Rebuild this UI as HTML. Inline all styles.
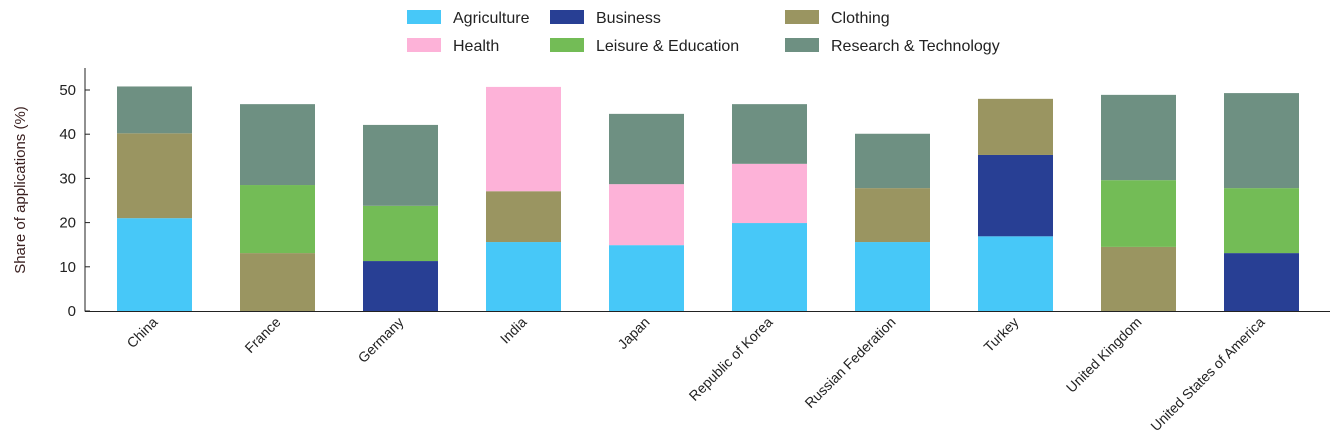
<!DOCTYPE html>
<html><head><meta charset="utf-8"><style>
body{margin:0;background:#fff;}
svg{display:block;font-family:"Liberation Sans",sans-serif;}
</style></head><body>
<svg id="chart" width="1344" height="444"></svg>
<script>
const categories=["China","France","Germany","India","Japan","Republic of Korea","Russian Federation","Turkey","United Kingdom","United States of America"];
const seriesNames=["Agriculture","Business","Clothing","Health","Leisure & Education","Research & Technology"];
const agriculture=[21.0,0,0,15.6,14.9,19.9,15.6,16.9,0,0];
const business=[0,0,11.3,0,0,0,0,18.4,0,13.1];
const clothing=[19.2,13.1,0,11.5,0,0,12.2,12.7,14.5,0];
const health=[0,0,0,23.6,13.8,13.4,0,0,0,0];
const leisure=[0,15.4,12.5,0,0,0,0,0,15.1,14.7];
const research=[10.6,18.3,18.3,0,15.9,13.5,12.3,0,19.3,21.5];
const yTicks=[0,10,20,30,40,50];
const colors=["#47c8f8","#283f94","#9a9561","#fdb2d8","#73bc56","#6e9082"];
const stackOrder=[[0,agriculture],[1,business],[2,clothing],[3,health],[4,leisure],[5,research]];
const NS="http://www.w3.org/2000/svg";
const svg=document.getElementById("chart");
const x0=93,band=123,barW=75,yBase=311,pxPerUnit=4.42;
const y=v=>yBase-v*pxPerUnit;
const xc=i=>x0+band*i+band/2;
function mk(tag,attrs,parent){const e=document.createElementNS(NS,tag);for(const k in attrs)e.setAttribute(k,attrs[k]);(parent||svg).appendChild(e);return e;}
// bars
categories.forEach((c,i)=>{
  let acc=0;
  stackOrder.forEach(([si,arr])=>{
    const v=arr[i]; if(!v) return;
    const r=mk("rect",{x:xc(i)-barW/2,y:y(acc+v),width:barW,height:v*pxPerUnit,fill:colors[si]});
    
    
    acc+=v;
  });
  const t=mk("text",{x:xc(i)+4,y:323,"text-anchor":"end","font-size":14,fill:"#222",transform:`rotate(-45 ${xc(i)+4} 323)`});
  t.textContent=c;
  
  
});
// axes
const ya=mk("line",{x1:85,y1:68,x2:85,y2:311.5,stroke:"#222","stroke-width":1});


const xa=mk("line",{x1:85,y1:311.5,x2:1330,y2:311.5,stroke:"#222","stroke-width":1});


yTicks.forEach(v=>{
  const tk=mk("line",{x1:85,x2:90,y1:y(v),y2:y(v),stroke:"#222"});
  
  
  const t=mk("text",{x:76,y:y(v)+5,"text-anchor":"end","font-size":15,fill:"#222"});
  t.textContent=v;
  
  
});
const yt=mk("text",{x:25,y:190,"text-anchor":"middle","font-size":15,fill:"#3a2020",transform:"rotate(-90 25 190)"});
yt.textContent="Share of applications (%)";


// legend
const legendPos=[[407,10],[550,10],[785,10],[407,38],[550,38],[785,38]];
const legendOrder=[0,1,2,3,4,5];
legendOrder.forEach((si,k)=>{
  const [lx,ly]=legendPos[k];
  const g=mk("g",{});
  
  
  mk("rect",{x:lx,y:ly,width:34,height:14,fill:colors[si]},g);
  const t=mk("text",{x:lx+46,y:ly+13,"font-size":16,fill:"#222"},g);
  t.textContent=seriesNames[si];
});
</script>
</body></html>
